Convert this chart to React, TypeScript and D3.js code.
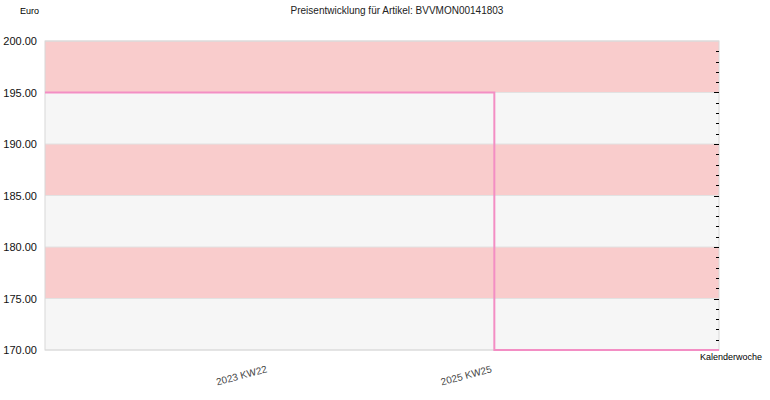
import { useEffect, useRef } from "react";
import * as d3 from "d3";

// weekly price points (index on the week axis)
const weeks = ["2021 KW21", "2023 KW22", "2025 KW25", "2027 KW27"];
const prices = [195, 195, 170, 170];
const tickLabels = ["", "2023 KW22", "2025 KW25", ""];
const yTicks = [170, 175, 180, 185, 190, 195, 200];

export default function App() {
  const ref = useRef<SVGSVGElement>(null);

  useEffect(() => {
    if (!ref.current) return;
    const svg = d3.select(ref.current);
    svg.selectAll("*").remove();

    const width = 770;
    const height = 400;
    const margin = { top: 41, right: 51, bottom: 50, left: 45 };
    const innerWidth = width - margin.left - margin.right;
    const innerHeight = height - margin.top - margin.bottom;
    const font = "Arial, 'Liberation Sans', sans-serif";

    const g = svg.append("g").attr("transform", `translate(${margin.left},${margin.top})`);

    const x = d3.scalePoint<string>().domain(weeks).range([0, innerWidth]);
    const y = d3.scaleLinear().domain([170, 200]).range([innerHeight, 0]);

    // alternating bands
    d3.pairs(yTicks).forEach(([lo, hi], i) => {
      g.append("rect")
        .attr("x", 0)
        .attr("width", innerWidth)
        .attr("y", y(hi))
        .attr("height", y(lo) - y(hi))
        .attr("fill", i % 2 === 0 ? "#f6f6f6" : "#f9cccc");
    });

    // grid lines
    yTicks.forEach((t) => {
      g.append("line")
        .attr("x1", 0)
        .attr("x2", innerWidth)
        .attr("y1", y(t))
        .attr("y2", y(t))
        .attr("stroke", "#e2e2e2");
    });

    // frame
    g.append("rect")
      .attr("width", innerWidth)
      .attr("height", innerHeight)
      .attr("fill", "none")
      .attr("stroke", "#d8d8d8");

    // y labels
    yTicks.forEach((t) => {
      g.append("text")
        .attr("x", -8)
        .attr("y", y(t) + 4)
        .attr("text-anchor", "end")
        .style("font-family", font)
        .style("font-size", "11px")
        .style("fill", "#111")
        .text(t.toFixed(2));
    });

    // right-side minor/major ticks
    d3.range(171, 200).forEach((t) => {
      const major = t % 5 === 0;
      g.append("line")
        .attr("x1", innerWidth - (major ? 5 : 3))
        .attr("x2", innerWidth)
        .attr("y1", Math.round(y(t)) + 0.5)
        .attr("y2", Math.round(y(t)) + 0.5)
        .attr("stroke", "#000");
    });

    // price line
    const line = d3
      .line<number>()
      .x((_, i) => x(weeks[i])!)
      .y((d) => y(d))
      .curve(d3.curveStepAfter);

    g.append("path")
      .datum(prices)
      .attr("d", line)
      .attr("fill", "none")
      .attr("stroke", "#f38ec4")
      .attr("stroke-width", 2);

    // x labels
    weeks.forEach((w, i) => {
      if (!tickLabels[i]) return;
      const px = x(w)! - 2;
      const py = innerHeight + 22;
      g.append("text")
        .attr("x", px)
        .attr("y", py)
        .attr("text-anchor", "end")
        .attr("transform", `rotate(-15, ${px}, ${py})`)
        .style("font-family", font)
        .style("font-size", "10px")
        .style("fill", "#444")
        .text(tickLabels[i]);
    });

    // axis titles
    svg.append("text")
      .attr("x", 20)
      .attr("y", 14)
      .style("font-family", font)
      .style("font-size", "9px")
      .style("fill", "#000")
      .text("Euro");

    svg.append("text")
      .attr("x", margin.left + innerWidth - 19)
      .attr("y", 360)
      .style("font-family", font)
      .style("font-size", "9px")
      .style("fill", "#000")
      .text("Kalenderwoche");

    svg.append("text")
      .attr("x", 397)
      .attr("y", 14)
      .attr("text-anchor", "middle")
      .style("font-family", font)
      .style("font-size", "10px")
      .style("fill", "#222")
      .text("Preisentwicklung für Artikel: BVVMON00141803");
  }, []);

  return (
    <svg
      ref={ref}
      width={770}
      height={400}
      style={{ position: "absolute", left: 0, top: 0, background: "#fff" }}
    />
  );
}
